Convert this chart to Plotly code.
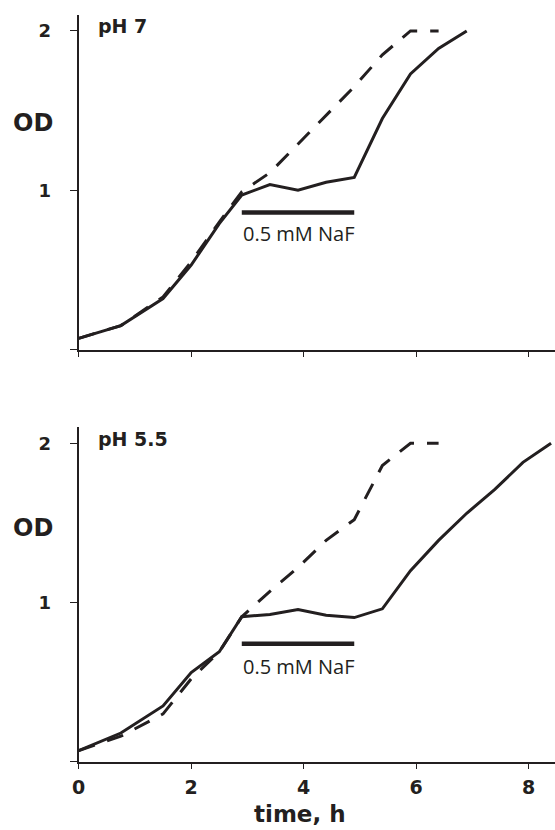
import plotly.graph_objects as go

# ---- data ----
time_top_solid = [0, 0.75, 1.5, 2.0, 2.5, 2.9, 3.4, 3.9, 4.4, 4.9, 5.4, 5.9, 6.4, 6.9]
od_top_solid = [0.07, 0.15, 0.32, 0.53, 0.79, 0.97, 1.035, 1.0, 1.05, 1.08, 1.45, 1.73, 1.89, 2.0]
time_top_dash = [0, 0.75, 1.5, 2.0, 2.5, 2.9, 3.4, 3.9, 4.4, 4.9, 5.4, 5.9, 6.4]
od_top_dash = [0.07, 0.15, 0.33, 0.55, 0.80, 0.99, 1.11, 1.29, 1.47, 1.65, 1.85, 2.0, 2.0]

time_bot_solid = [0, 0.75, 1.5, 2.0, 2.5, 2.9, 3.4, 3.9, 4.4, 4.9, 5.4, 5.9, 6.4, 6.9, 7.4, 7.9, 8.4]
od_bot_solid = [0.07, 0.18, 0.35, 0.56, 0.69, 0.91, 0.925, 0.955, 0.92, 0.905, 0.96, 1.2, 1.39, 1.56, 1.71, 1.88, 2.0]
time_bot_dash = [0, 0.75, 1.5, 2.0, 2.5, 2.9, 3.4, 3.9, 4.4, 4.9, 5.4, 5.9, 6.4]
od_bot_dash = [0.07, 0.16, 0.30, 0.52, 0.69, 0.91, 1.07, 1.22, 1.39, 1.52, 1.86, 2.0, 2.0]

naf_time = [2.9, 4.9]
naf_level_top = 0.86
naf_level_bot = 0.74
naf_label = "0.5 mM NaF"

x_ticks = [0, 2, 4, 6, 8]
x_ticklabels = ["0", "2", "4", "6", "8"]
y_ticks = [0, 1, 2]
y_ticklabels = ["", "1", "2"]
panel_titles = ["pH 7", "pH 5.5"]

INK = "#231f20"
W, H = 555, 830
BOLDFONT = "DejaVu Sans"

fig = go.Figure()

def add_panel(xs, ys, xd, yd, naf_y, xa, ya):
    fig.add_trace(go.Scatter(x=xd, y=yd, mode="lines", xaxis=xa, yaxis=ya,
                             line=dict(color=INK, width=3, dash="17px,13px"),
                             showlegend=False, hoverinfo="skip"))
    fig.add_trace(go.Scatter(x=xs, y=ys, mode="lines", xaxis=xa, yaxis=ya,
                             line=dict(color=INK, width=3),
                             showlegend=False, hoverinfo="skip"))
    fig.add_trace(go.Scatter(x=naf_time, y=[naf_y, naf_y], mode="lines", xaxis=xa, yaxis=ya,
                             line=dict(color=INK, width=4.5),
                             showlegend=False, hoverinfo="skip"))

add_panel(time_top_solid, od_top_solid, time_top_dash, od_top_dash, naf_level_top, "x", "y")
add_panel(time_bot_solid, od_bot_solid, time_bot_dash, od_bot_dash, naf_level_bot, "x2", "y2")

x0 = 78.7 / W
xcommon = dict(range=[0, 8.47], domain=[x0, 1.0], showline=True, linewidth=2, linecolor=INK,
               ticks="outside", ticklen=5, tickwidth=1, tickcolor=INK,
               tickvals=x_ticks, ticktext=x_ticklabels, showgrid=False, zeroline=False,
               automargin=False,
               tickfont=dict(family=BOLDFONT, size=19, color=INK, weight="bold"))
ycommon = dict(range=[0, 2.1], showline=True, linewidth=2, linecolor=INK,
               ticks="outside", ticklen=7, tickwidth=1, tickcolor=INK,
               tickvals=y_ticks, ticktext=y_ticklabels, showgrid=False, zeroline=False,
               automargin=False, ticklabelstandoff=15,
               tickfont=dict(family=BOLDFONT, size=18, color=INK, weight="bold"))

top_dom = [1 - 349.5 / H, 1 - 15 / H]
bot_dom = [1 - 761.7 / H, 1 - 427.3 / H]

fig.update_layout(
    width=W, height=H, margin=dict(l=0, r=0, t=0, b=0),
    paper_bgcolor="white", plot_bgcolor="white",
    xaxis=dict(**xcommon, anchor="y", showticklabels=False),
    yaxis=dict(**ycommon, domain=top_dom, anchor="x"),
    xaxis2=dict(**xcommon, anchor="y2", ticklabelstandoff=2),
    yaxis2=dict(**ycommon, domain=bot_dom, anchor="x2"),
)

bold = dict(family=BOLDFONT, color=INK, weight="bold")
ann = []
# panel titles
ann.append(dict(text=panel_titles[0], x=0.3, y=2.034, xref="x", yref="y", xanchor="left",
                yanchor="middle", showarrow=False, font=dict(**bold, size=19)))
ann.append(dict(text=panel_titles[1], x=0.3, y=2.027, xref="x2", yref="y2", xanchor="left",
                yanchor="middle", showarrow=False, font=dict(**bold, size=19)))
# NaF labels
ann.append(dict(text=naf_label, x=2.88, y=0.728, xref="x", yref="y", xanchor="left",
                yanchor="middle", showarrow=False,
                font=dict(family="Open Sans", size=20, color=INK)))
ann.append(dict(text=naf_label, x=2.88, y=0.595, xref="x2", yref="y2", xanchor="left",
                yanchor="middle", showarrow=False,
                font=dict(family="Open Sans", size=20, color=INK)))
# OD labels
ann.append(dict(text="OD", x=33.3 / W, y=1 - 123.3 / H, xref="paper", yref="paper",
                xanchor="center", yanchor="middle", showarrow=False, font=dict(**bold, size=24)))
ann.append(dict(text="OD", x=33.3 / W, y=1 - 528 / H, xref="paper", yref="paper",
                xanchor="center", yanchor="middle", showarrow=False, font=dict(**bold, size=24)))
# x title
ann.append(dict(text="time, h", x=300 / W, y=1 - 814 / H, xref="paper", yref="paper",
                xanchor="center", yanchor="middle", showarrow=False, font=dict(**bold, size=23)))
fig.update_layout(annotations=ann)

fig.write_html("out.html", config={"displayModeBar": False},
               post_script="document.body.style.margin='0';document.body.style.overflow='hidden';")
